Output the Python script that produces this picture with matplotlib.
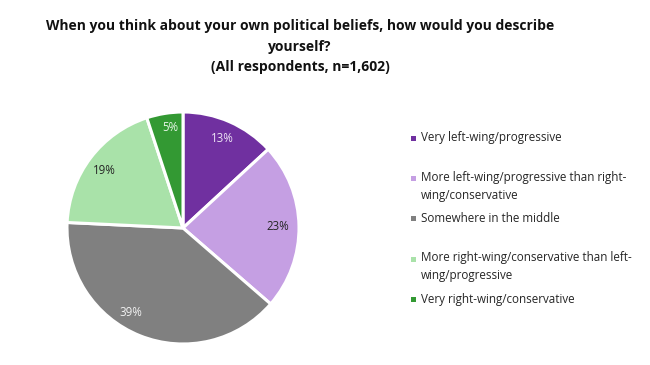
import numpy as np
import matplotlib.pyplot as plt
from matplotlib.patches import Rectangle

plt.rcParams["font.family"] = ["Open Sans", "DejaVu Sans"]

# ── Daten ────────────────────────────────────────────────────────────────────
categories = [
    "Very left-wing/progressive",
    "More left-wing/progressive than right-\nwing/conservative",
    "Somewhere in the middle",
    "More right-wing/conservative than left-\nwing/progressive",
    "Very right-wing/conservative",
]
shares = [13, 23, 39, 19, 5]
colors = ["#7030A0", "#C59FE3", "#808080", "#A9E2A9", "#339933"]
label_colors = ["#EDE4F5", "#262626", "#F2F2F2", "#262626", "#E8F5E8"]

title = ("When you think about your own political beliefs, how would you describe\n"
         "yourself?\n(All respondents, n=1,602)")

# ── Figure ───────────────────────────────────────────────────────────────────
fig = plt.figure(figsize=(6.5, 3.65), dpi=100)
fig.patch.set_facecolor("white")

fig.text(300 / 650, 1 - 19 / 365, title, ha="center", va="top", fontsize=10,
         fontweight="bold", color="#111111", linespacing=1.6)

# pie: center ~ (183, 228) px, radius ~116 px
r_px = 116
cx, cy = 183, 228
ax = fig.add_axes([(cx - r_px) / 650, 1 - (cy + r_px) / 365,
                   2 * r_px / 650, 2 * r_px / 365])
wedges, texts = ax.pie(shares, colors=colors, startangle=90, counterclock=False,
                       labels=[f"{s}%" for s in shares], labeldistance=0.82,
                       wedgeprops=dict(edgecolor="white", linewidth=2.2))
# Excel "best fit" schiebt einige Labels etwas entlang des Bogens
angle_shift = [0, 0, -10, 1, -2]
dist = [0.84, 0.82, 0.86, 0.84, 0.87]
for w, t, c, da, d in zip(wedges, texts, label_colors, angle_shift, dist):
    mid = np.deg2rad((w.theta1 + w.theta2) / 2 + da)
    t.set_position((d * np.cos(mid), d * np.sin(mid)))
    t.set_color(c)
    t.set_fontsize(8.3)
    t.set_ha("center")
    t.set_va("center")
ax.set_xlim(-1, 1)
ax.set_ylim(-1, 1)
ax.set_aspect("equal")

# ── Legende (manuell) ────────────────────────────────────────────────────────
legend_y = [138, 186, 218, 267, 299]
for lab, col, y, in zip(categories, colors, legend_y):
    n_lines = lab.count("\n") + 1
    y_top = y - 8 * (n_lines - 1)
    fig.patches.append(Rectangle((411 / 650, 1 - (y_top + 3) / 365), 5 / 650, 5 / 365,
                                 transform=fig.transFigure, facecolor=col,
                                 edgecolor="none"))
    fig.text(421 / 650, 1 - y / 365, lab, ha="left", va="center", fontsize=8.4,
             color="#262626", linespacing=1.5)

fig.savefig("out.png", dpi=100)
